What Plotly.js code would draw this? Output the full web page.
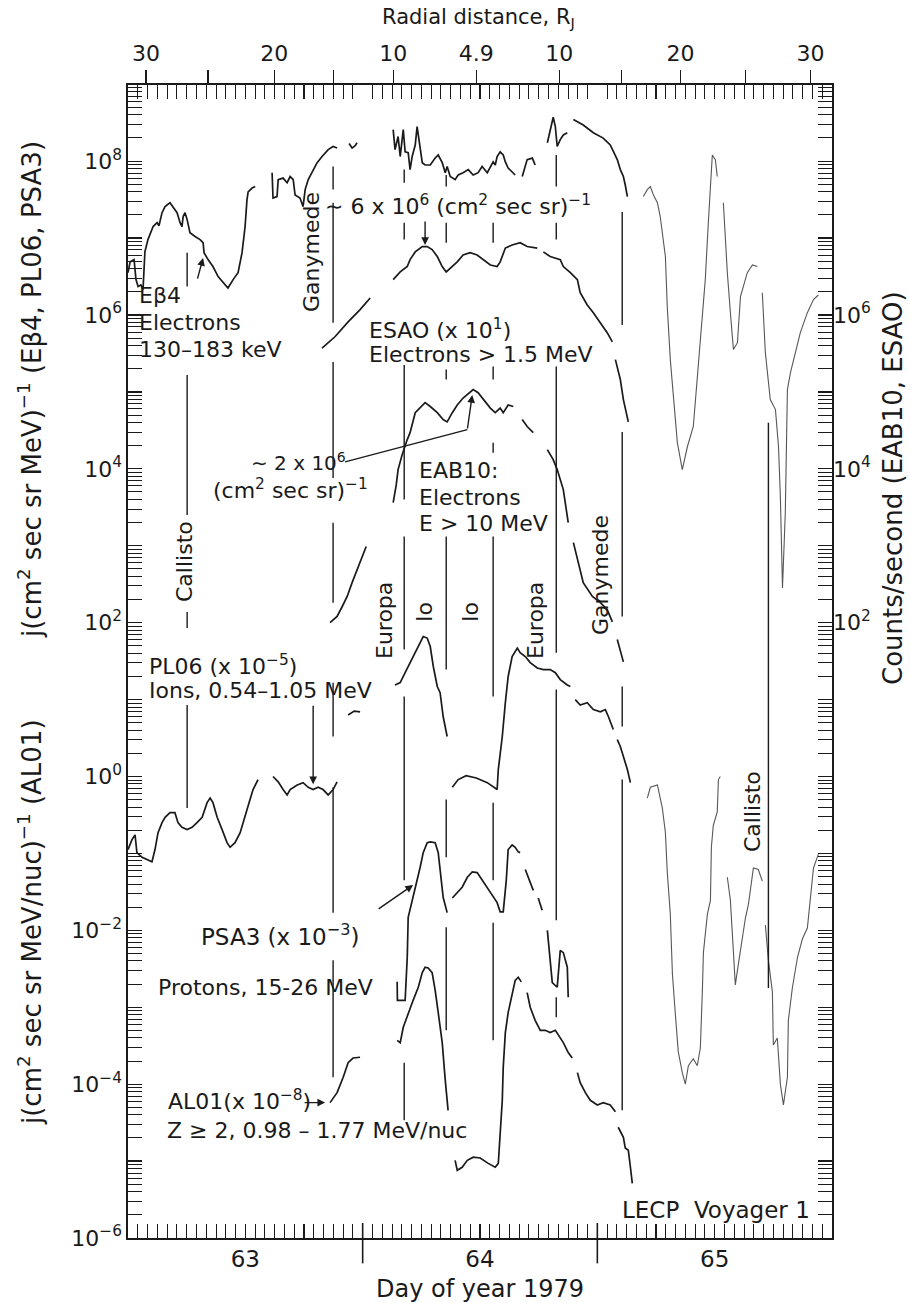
<!DOCTYPE html>
<html>
<head>
<meta charset="utf-8">
<script src="https://cdn.plot.ly/plotly-3.0.1.min.js"></script>
<style>
  html, body { margin: 0; padding: 0; background: #fff; }
  #chart { width: 911px; height: 1303px; }
</style>
</head>
<body>
<div id="chart"></div>
<script>
// Voyager 1 LECP, Jupiter encounter, days 63-66 of 1979.
// x: fractional day of year; y: log10 of the plotted intensity. null breaks a trace.

// E-beta-4 electrons 130-183 keV, inbound and near closest approach
const eb4Day = [63.000,63.009,63.026,63.034,63.043,63.055,63.064,63.072,63.085,63.107,63.124,63.132,63.145,63.158,63.179,63.192,63.209,63.222,63.230,63.235,63.243,63.252,63.264,63.286,63.307,63.320,63.324,63.341,63.362,63.384,63.405,63.426,63.448,63.469,63.486,63.499,63.507,63.512,63.529,63.542,null,
  63.614,63.618,63.635,63.640,63.661,63.678,63.691,63.704,63.712,63.733,63.746,63.755,63.768,63.789,63.806,63.827,63.853,63.874,63.891,null,
  63.942,63.955,63.968,63.976,null,
  64.130,64.138,64.151,64.160,64.173,64.181,64.194,64.202,64.211,64.224,64.232,64.245,64.254,64.266,64.288,64.309,64.322,64.339,64.352,64.360,64.373,64.394,64.407,64.428,64.450,64.471,64.492,64.509,64.531,64.556,64.565,64.573,64.586,64.599,64.608,64.620,64.637,64.650,null,
  64.680,64.701,64.723,64.735,null,
  64.787,64.799,64.812,64.821,64.829,64.842,64.855,64.872,null,
  64.898,64.940,64.983,65.025,65.055,65.068,65.085,65.098,65.111,65.119,65.128];
const eb4Log = [6.55,6.69,6.72,6.46,6.37,6.39,6.33,6.82,6.98,7.15,7.20,7.16,7.33,7.41,7.46,7.41,7.33,7.20,7.15,7.28,7.33,7.24,7.07,7.02,6.98,6.94,6.81,6.72,6.63,6.50,6.42,6.35,6.46,6.55,6.81,7.15,7.50,7.60,7.65,7.67,null,
  7.85,7.52,7.54,7.76,7.78,7.72,7.80,7.76,7.56,7.52,7.41,7.63,7.76,7.89,7.98,8.06,8.15,8.19,8.17,null,
  8.23,8.17,8.20,8.24,null,
  8.41,8.15,8.32,8.06,8.41,8.12,8.11,7.89,8.06,8.21,8.45,8.19,7.98,7.95,7.95,8.04,8.08,7.98,7.85,7.93,7.80,7.76,7.82,7.85,7.89,7.82,7.85,7.93,7.85,7.99,7.95,8.06,8.12,8.08,7.99,7.91,7.86,7.82,null,
  7.80,8.02,8.04,7.95,null,
  8.24,8.41,8.57,8.45,8.19,8.28,8.34,8.37,null,
  8.54,8.47,8.37,8.30,8.21,8.12,8.02,7.89,7.80,7.69,7.54];

// E-beta-4 outbound
const eb4OutDay = [65.196,65.213,65.226,65.239,65.256,65.268,65.290,65.298,65.311,65.324,65.341,65.362,65.384,65.409,65.431,65.448,65.460,65.473,65.490,65.503,65.511,null,
  65.537,65.554,65.567,65.580,65.597,65.610,65.622,65.639,65.661,65.682,null,
  65.703,65.716,65.737,65.759,65.772,65.780,65.789,65.801,65.810,65.823,65.844,65.865,65.895,65.921,65.942];
const eb4OutLog = [7.54,7.63,7.67,7.56,7.46,7.28,6.76,6.11,5.42,4.90,4.34,3.99,4.29,4.55,5.33,6.03,6.46,7.20,8.08,8.02,7.80,null,
  7.46,6.55,6.03,5.55,5.64,6.24,6.37,6.55,6.65,6.63,null,
  6.29,5.51,4.90,4.77,4.29,3.64,2.45,3.43,5.03,5.25,5.51,5.77,6.03,6.20,6.26];

// ESAO electrons > 1.5 MeV, counts/s x 10
const esaoDay = [63.827,63.883,63.938,63.989,64.032,null,
  64.130,64.160,64.190,64.202,64.224,64.254,64.275,64.296,64.318,64.339,64.356,64.373,64.403,64.428,64.458,64.488,64.514,64.544,64.573,64.586,64.608,64.637,64.671,64.701,64.744,null,
  64.770,64.799,64.842,64.855,64.885,64.915,64.927,64.957,64.983,65.013,65.042,65.064,null,
  65.077,65.098,65.111,65.132];
const esaoLog = [5.57,5.72,5.91,6.07,6.22,null,
  6.46,6.56,6.63,6.72,6.82,6.89,6.89,6.85,6.76,6.63,6.56,6.61,6.69,6.78,6.81,6.78,6.72,6.65,6.63,6.69,6.87,6.91,6.94,6.89,6.87,null,
  6.82,6.76,6.72,6.63,6.55,6.46,6.29,6.13,6.03,5.90,5.77,5.65,null,
  5.42,5.16,4.90,4.61];

// EAB10 electrons E > 10 MeV, counts/s
const eab10Day = [63.861,63.891,63.913,63.934,63.955,63.976,63.998,64.015,null,
  64.130,64.143,64.151,64.168,64.190,64.202,64.224,64.245,64.266,64.288,64.318,64.343,64.360,64.382,64.403,64.428,64.458,64.471,64.492,64.522,64.544,64.565,64.586,64.599,64.620,64.642,null,
  64.680,64.701,64.727,null,
  64.787,64.812,64.829,64.855,64.876,null,
  64.898,64.919,64.940,64.979,65.013,65.042,65.064,null,
  65.085,65.098,65.111];
const eab10Log = [2.00,2.08,2.21,2.34,2.52,2.69,2.86,2.99,null,
  3.56,3.79,3.99,4.18,4.38,4.47,4.73,4.79,4.86,4.81,4.73,4.64,4.61,4.73,4.83,4.92,5.00,5.03,4.99,4.87,4.79,4.73,4.79,4.73,4.83,4.81,null,
  4.64,4.55,4.47,null,
  4.25,4.12,3.99,3.73,3.30,null,
  3.04,2.78,2.52,2.34,2.26,2.17,2.01,null,
  1.78,1.65,1.49];

// PL06 ions 0.54-1.05 MeV, x 1e-5
const pl06Day = [63.000,63.017,63.030,63.038,63.060,63.085,63.102,63.115,63.128,63.145,63.158,63.179,63.200,63.213,63.230,63.252,63.273,63.294,63.316,63.337,63.350,63.362,63.380,63.401,63.422,63.435,63.456,63.478,63.499,63.520,63.533,63.554,null,
  63.618,63.640,63.661,63.678,63.691,63.721,63.746,63.768,63.789,63.810,63.831,63.853,63.874,63.891,null,
  63.938,63.964,63.989,null,
  64.138,64.160,64.181,64.202,64.224,64.245,64.258,64.275,64.288,64.301,64.318,64.330,64.343,64.360,null,
  64.382,64.407,64.441,64.484,64.531,64.573,64.578,64.595,64.608,64.620,64.637,64.659,64.671,64.693,64.714,64.744,64.770,64.799,64.821,64.842,64.872,64.885,null,
  64.906,64.927,64.957,64.983,65.013,65.034,65.047,65.068,null,
  65.085,65.098,65.111,65.128,65.141];
const pl06Log = [-0.95,-0.82,-0.76,-0.99,-1.05,-1.08,-1.11,-0.95,-0.73,-0.60,-0.53,-0.47,-0.47,-0.60,-0.66,-0.69,-0.66,-0.60,-0.53,-0.34,-0.28,-0.34,-0.53,-0.69,-0.86,-0.92,-0.86,-0.73,-0.53,-0.30,-0.17,-0.04,null,
  0.00,-0.07,-0.17,-0.24,-0.17,-0.11,-0.08,-0.14,-0.17,-0.14,-0.17,-0.24,-0.17,-0.07,null,
  0.80,0.85,0.84,null,
  1.19,1.22,1.35,1.48,1.62,1.75,1.82,1.80,1.69,1.43,1.17,1.09,0.78,0.52,null,
  -0.14,-0.04,0.01,-0.02,-0.08,-0.17,0.09,0.52,0.96,1.30,1.56,1.67,1.61,1.56,1.48,1.41,1.39,1.39,1.35,1.26,1.19,1.17,null,
  1.00,0.93,0.96,0.87,0.84,0.87,0.78,0.61,null,
  0.48,0.39,0.26,0.09,-0.08];

// PL06 outbound
const pl06OutDay = [65.213,65.226,65.256,65.268,65.277,65.290,65.298,65.311,65.320,65.332,65.345,65.362,65.375,65.388,65.409,65.426,65.439,65.448,65.452,65.469,65.482,65.486,65.494,65.511,65.516,65.524,null,
  65.554,65.567,65.580,65.588,65.601,65.618,65.631,65.644,65.661,65.665,65.686,65.703,null,
  65.716,65.729,65.746,65.750,65.767,65.780,65.793,65.810,65.814,65.831,65.853,65.874,65.895,65.908,65.921,65.942];
const pl06OutLog = [-0.28,-0.14,-0.11,-0.28,-0.41,-0.73,-1.24,-1.79,-2.57,-3.07,-3.58,-3.85,-4.00,-3.76,-3.67,-3.76,-3.53,-2.75,-2.29,-1.79,-1.61,-0.92,-0.64,-0.46,-0.04,0.00,null,
  -1.31,-1.61,-2.29,-2.71,-2.44,-2.11,-1.84,-1.66,-1.33,-1.19,-1.21,-1.36,null,
  -1.93,-2.39,-2.80,-3.49,-3.40,-4.00,-4.27,-3.91,-3.17,-2.75,-2.35,-2.11,-1.97,-1.57,-1.19,-1.01];

// PSA3 protons 15-26 MeV, x 1e-3
const psa3Day = [64.147,64.148,64.181,64.190,64.194,64.211,64.224,64.237,64.245,64.258,64.275,64.288,64.309,64.322,64.330,64.343,64.360,null,
  64.382,64.403,64.424,64.446,64.467,64.488,64.509,64.531,64.556,64.573,64.586,64.599,64.612,64.620,64.637,64.650,64.663,64.671,null,
  64.693,64.714,64.727,null,
  64.748,64.765,null,
  64.787,64.799,64.808,64.829,64.842,64.855,64.872,64.876];
const psa3Log = [-2.67,-2.91,-2.91,-2.35,-1.83,-1.61,-1.44,-1.31,-1.18,-0.99,-0.86,-0.85,-0.86,-0.99,-1.25,-1.57,-1.77,null,
  -1.58,-1.51,-1.44,-1.31,-1.24,-1.25,-1.35,-1.44,-1.57,-1.64,-1.76,-1.76,-1.35,-0.95,-0.89,-0.92,-0.98,-0.99,null,
  -1.21,-1.38,-1.48,null,
  -1.58,-1.74,null,
  -2.00,-2.35,-2.68,-2.74,-2.26,-2.29,-2.48,-2.87];

// AL01 Z >= 2, 0.98-1.77 MeV/nuc, x 1e-8
const al01Day = [63.861,63.891,63.917,63.938,63.959,63.989,null,
  64.147,64.160,64.173,64.194,64.215,64.237,64.254,64.266,64.279,64.296,64.309,64.322,64.339,64.352,64.364,null,
  64.394,64.403,64.424,64.446,64.471,64.501,64.535,64.565,64.578,64.586,64.595,64.599,64.608,64.620,64.637,64.650,64.663,64.676,null,
  64.701,64.714,64.735,64.757,64.778,64.799,64.821,64.842,64.855,64.876,64.893,null,
  64.915,64.927,64.949,64.970,65.000,65.025,65.055,65.077,null,
  65.089,65.111,65.119,65.132,65.141,65.149];
const al01Log = [-4.24,-4.11,-3.91,-3.72,-3.66,-3.65,null,
  -3.43,-3.46,-3.26,-3.07,-2.91,-2.74,-2.55,-2.48,-2.49,-2.55,-2.78,-3.07,-3.46,-3.95,-4.34,null,
  -4.99,-5.12,-5.08,-4.99,-4.95,-4.96,-5.03,-5.08,-5.03,-4.64,-4.21,-3.78,-3.33,-3.07,-2.81,-2.65,-2.61,-2.67,null,
  -2.81,-3.00,-3.17,-3.30,-3.30,-3.33,-3.30,-3.39,-3.46,-3.59,-3.66,null,
  -3.85,-3.98,-4.11,-4.21,-4.27,-4.24,-4.27,-4.36,null,
  -4.56,-4.69,-4.83,-4.86,-5.08,-5.29];

// Moon orbit crossings (day) and the stretches of each marker line (log10 extents)
const moonName = ['Callisto','Ganymede','Europa','Io','Io','Europa','Ganymede','Callisto'];
const moonDay = [63.252, 63.874, 64.177, 64.356, 64.556, 64.825, 65.106, 65.729];
const moonSpans = [
  [[6.81,6.37],[5.22,3.40],[2.14,1.93],[0.93,-0.41]],
  [[7.93,7.63],[7.46,5.90],[5.39,3.88],[3.30,2.26],[1.22,0.52],[-0.14,-1.77],[-2.39,-3.91]],
  [[7.89,7.72],[7.20,6.98],[5.35,3.60],[3.12,1.65],[1.04,-1.35],[-3.72,-4.47]],
  [[7.82,7.67],[7.20,6.94],[5.29,5.16],[3.12,1.39],[-0.30,-1.05],[-1.96,-3.30]],
  [[7.20,6.94],[5.33,5.16],[4.34,4.21],[3.12,1.04],[-0.34,-1.35],[-1.90,-3.43]],
  [[8.08,7.67],[7.20,6.98],[5.33,1.61],[1.13,-1.87],[-2.87,-3.13]],
  [[7.34,5.87],[4.48,2.08],[1.17,0.65],[-0.04,-4.34]],
  [[4.60,-2.75]]
];

// Radial distance scale along the top (R_J) and day labels along the bottom
const radialDay = [63.077, 63.341, 63.623, 63.874, 64.130, 64.484, 64.838, 65.102, 65.354, 65.631, 65.908];
const radialLabel = ['30', '', '20', '', '10', '4.9', '10', '', '20', '', '30'];
const dayTickAt = [63.25, 63.5, 63.75, 64.25, 64.5, 64.75, 65.25, 65.5, 65.75];
const dayTickLabel = ['', '63', '', '', '64', '', '', '65', ''];
const dayBoundary = [64, 65];

// EAB10 leader line: start and bend point (day, log10)
const eab10Leader = [[63.925, 4.09], [64.446, 4.51]];

const INK = '#1a1a1a';
const FAINT = '#575757';
const FONT = 'DejaVu Sans, Verdana, sans-serif';
const LOG_RANGE = [-6, 8.99];

// plot area in page pixels
const L = 128, T = 85, W = 704, H = 1153;
const px = (x) => (x - L) / W;
const py = (y) => (T + H - y) / H;

function series(days, logs, axis, width, color) {
  return {
    type: 'scatter', mode: 'lines', x: days,
    y: logs.map(v => v === null ? null : Math.pow(10, v)),
    yaxis: axis, connectgaps: false, hoverinfo: 'skip',
    line: { color: color || INK, width: width || 1.7 }
  };
}

// moon marker lines
const mx = [], my = [];
moonDay.forEach((d, i) => {
  moonSpans[i].forEach(s => {
    mx.push(d, d, null);
    my.push(Math.pow(10, s[0]), Math.pow(10, s[1]), null);
  });
});

const traces = [
  series(eb4Day, eb4Log, 'y'),
  series(eb4OutDay, eb4OutLog, 'y', 1.1, FAINT),
  series(esaoDay, esaoLog, 'y2'),
  series(eab10Day, eab10Log, 'y2'),
  series(pl06Day, pl06Log, 'y'),
  series(pl06OutDay, pl06OutLog, 'y', 1.1, FAINT),
  series(psa3Day, psa3Log, 'y'),
  series(al01Day, al01Log, 'y'),
  { type: 'scatter', mode: 'lines', x: mx, y: my, xaxis: 'x2', connectgaps: false,
    hoverinfo: 'skip', line: { color: INK, width: 1.4 } }
];

// decade and sub-decade tick positions
const decades = [], decadeText = [], minorVals = [];
for (let k = -6; k <= 8; k++) {
  decades.push(Math.pow(10, k));
  const e = k < 0 ? '\u2212' + (-k) : String(k);
  decadeText.push(k % 2 === 0 ? '10<sup>' + e + '</sup>' : '');
  for (let m = 2; m <= 9; m++) minorVals.push(m * Math.pow(10, k));
}
const rightVals = [1e2, 1e4, 1e6];
const rightText = ['10<sup>2</sup>', '10<sup>4</sup>', '10<sup>6</sup>'];
const hourVals = [];
for (let h = 1; h < 72; h++) if (h % 6 !== 0) hourVals.push(63 + h / 24);

const tickFont = { family: FONT, size: 22, color: INK };

function label(text, x, y, opts, size) {
  return Object.assign({
    text: text, xref: 'paper', yref: 'paper', x: px(x), y: py(y),
    showarrow: false, xanchor: 'center', yanchor: 'middle',
    font: { family: FONT, size: size || 22, color: INK }
  }, opts || {});
}
function arrow(x, y, ax, ay) {
  return { text: '', x: x, y: y, xref: 'x', yref: 'y', ax: ax, ay: ay,
    showarrow: true, arrowhead: 2, arrowsize: 1.1, arrowwidth: 1.4, arrowcolor: INK, standoff: 0 };
}
const vert = { textangle: -90 };
const left = { xanchor: 'left' };

const annotations = [
  label('Radial distance, R<sub>J</sub>', 478, 18, null, 21),
  label('Day of year 1979', 480, 1289, null, 24),
  label('j(cm<sup>2</sup> sec sr MeV)<sup>\u22121</sup> (E\u03b24, PL06, PSA3)', 30, 390, vert, 26),
  label('j(cm<sup>2</sup> sec sr MeV/nuc)<sup>\u22121</sup> (AL01)', 30, 922, vert, 26),
  label('Counts/second (EAB10, ESAO)', 893, 488, vert, 26),

  label('E\u03b24', 137, 295, left),
  label('Electrons', 137, 322, left),
  label('130\u2013183 keV', 137, 349, left),
  label('\u223c 6 x 10<sup>6</sup> (cm<sup>2</sup> sec sr)<sup>\u22121</sup>', 458, 205),
  label('ESAO (x 10<sup>1</sup>)', 367, 329, left),
  label('Electrons &gt; 1.5 MeV', 367, 355, left),
  label('\u223c 2 x 10<sup>6</sup>', 298, 462, null, 20),
  label('(cm<sup>2</sup> sec sr)<sup>\u22121</sup>', 290, 489),
  label('EAB10:', 417, 470, left),
  label('Electrons', 417, 497, left),
  label('E &gt; 10 MeV', 417, 523, left),
  label('PL06 (x 10<sup>\u22125</sup>)', 147, 665, left),
  label('Ions, 0.54\u20131.05 MeV', 147, 690, left),
  label('PSA3 (x 10<sup>\u22123</sup>)', 280, 935, null, 23),
  label('Protons, 15-26 MeV', 265, 987),
  label('AL01(x 10<sup>\u22128</sup>)', 166, 1100, left),
  label('Z \u2265 2, 0.98 \u2013 1.77 MeV/nuc', 165, 1130, left),
  label('LECP  Voyager 1', 716, 1210, null, 23),

  label(moonName[0], 184, 562, vert),
  label(moonName[1], 312, 252, vert),
  label(moonName[2], 384, 621, vert),
  label(moonName[3], 424, 612, vert),
  label(moonName[4], 470, 612, vert),
  label(moonName[5], 535, 621, vert),
  label(moonName[6], 600, 575, vert),
  label(moonName[7], 752, 812, vert),

  arrow(63.320, 6.74, -6, 22),
  arrow(64.266, 6.91, 0, -25),
  arrow(64.467, 4.96, -5, 35),
  arrow(63.789, -0.10, 0, -80),
  arrow(64.215, -1.41, -36, 25),
  arrow(63.840, -4.24, -22, 0)
];

const shapes = dayBoundary.map(d => ({
  type: 'line', xref: 'x', yref: 'paper', x0: d, x1: d, y0: -0.022, y1: 0.013,
  line: { color: INK, width: 1.6 }
}));
shapes.push({ type: 'line', xref: 'x', yref: 'y',
  x0: eab10Leader[0][0], y0: Math.pow(10, eab10Leader[0][1]),
  x1: eab10Leader[1][0], y1: Math.pow(10, eab10Leader[1][1]),
  line: { color: INK, width: 1.4 } });

const layout = {
  width: 911, height: 1303,
  margin: { l: L, r: 911 - L - W, t: T, b: 1303 - T - H },
  paper_bgcolor: '#ffffff', plot_bgcolor: '#ffffff',
  showlegend: false,
  font: { family: FONT, color: INK },
  xaxis: {
    range: [63, 66], showgrid: false, zeroline: false,
    showline: true, linecolor: INK, linewidth: 1.6, mirror: 'allticks',
    tickmode: 'array', tickvals: dayTickAt, ticktext: dayTickLabel,
    ticks: 'inside', ticklen: 14, tickwidth: 1.2, tickcolor: INK,
    tickfont: { family: FONT, size: 23, color: INK },
    minor: { tickmode: 'array', tickvals: hourVals, ticks: 'inside', ticklen: 6, tickwidth: 1, tickcolor: INK, showgrid: false }
  },
  xaxis2: {
    overlaying: 'x', side: 'top', range: [63, 66], showgrid: false, zeroline: false,
    showline: false, tickmode: 'array', tickvals: radialDay, ticktext: radialLabel,
    ticks: 'outside', ticklen: 14, tickwidth: 1.2, tickcolor: INK, tickfont: tickFont
  },
  yaxis: {
    type: 'log', range: LOG_RANGE, showgrid: false, zeroline: false,
    showline: true, linecolor: INK, linewidth: 1.6, mirror: 'allticks',
    tickmode: 'array', tickvals: decades, ticktext: decadeText,
    ticks: 'inside', ticklen: 14, tickwidth: 1.2, tickcolor: INK, tickfont: tickFont,
    minor: { tickmode: 'array', tickvals: minorVals, ticks: 'inside', ticklen: 6, tickwidth: 1, tickcolor: INK, showgrid: false }
  },
  yaxis2: {
    type: 'log', overlaying: 'y', side: 'right', range: LOG_RANGE,
    showgrid: false, zeroline: false, showline: false,
    tickmode: 'array', tickvals: rightVals, ticktext: rightText, ticks: '',
    tickfont: tickFont
  },
  annotations: annotations,
  shapes: shapes
};

Plotly.newPlot('chart', traces, layout, { displayModeBar: false, staticPlot: true });
</script>
</body>
</html>
